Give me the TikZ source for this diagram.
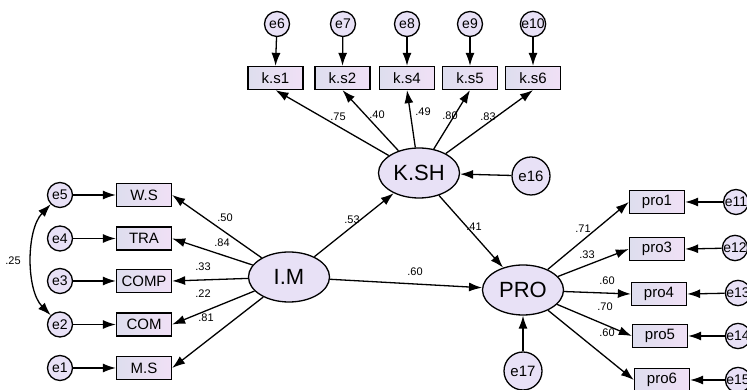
\documentclass[tikz,border=0pt]{standalone}
\usepackage{fontspec}
\setmainfont{Liberation Sans}
\usetikzlibrary{shapes.geometric,arrows.meta}
\definecolor{fillL}{RGB}{222,222,238}
\definecolor{fillR}{RGB}{240,224,246}
\definecolor{ellfill}{RGB}{232,225,246}
\tikzset{
  obs/.style={draw, rectangle, minimum width=55pt, minimum height=23pt, inner sep=1pt,
    left color=fillL, right color=fillR, line width=1.3pt, font=\fontsize{15}{17}\selectfont},
  lat/.style={draw, ellipse, minimum width=81pt, minimum height=50pt, inner sep=0pt,
    fill=ellfill, line width=1.3pt, font=\fontsize{22}{24}\selectfont},
  err/.style={draw, circle, minimum size=25pt, inner sep=0pt, fill=ellfill,
    line width=1.3pt, font=\fontsize{14}{16}\selectfont},
  bigerr/.style={err, minimum size=38pt, font=\fontsize{15}{17}\selectfont},
  arr/.style={-{Latex[length=13pt,width=9pt]}, line width=1.3pt},
  dbl/.style={{Latex[length=13pt,width=9pt]}-{Latex[length=13pt,width=9pt]}, line width=1.3pt},
  coef/.style={font=\fontsize{11}{13}\selectfont, inner sep=0pt}
}
\begin{document}
\begin{tikzpicture}[x=1pt,y=1pt]
\useasboundingbox (0,0) rectangle (747,390);
% latent
\node[lat] (ksh) at (419,217) {K.SH};
\node[lat] (im) at (289,113) {I.M};
\node[lat] (pro) at (523,100) {PRO};
\node[bigerr] (e16) at (531,214) {e16};
\node[bigerr] (e17) at (523,19) {e17};
% top
\node[obs] (ks1) at (275.5,312) {k.s1};
\node[obs] (ks2) at (342.5,312) {k.s2};
\node[obs] (ks4) at (407,312) {k.s4};
\node[obs] (ks5) at (470,312) {k.s5};
\node[obs] (ks6) at (533,312) {k.s6};
\node[err] (e6) at (277,366) {e6};
\node[err] (e7) at (343,366) {e7};
\node[err] (e8) at (407,366) {e8};
\node[err] (e9) at (470,366) {e9};
\node[err] (e10) at (533,366) {e10};
% left
\node[obs] (ws) at (144,195) {W.S};
\node[obs] (tra) at (144,151.5) {TRA};
\node[obs] (comp) at (144,109) {COMP};
\node[obs] (com) at (144,65.5) {COM};
\node[obs] (ms) at (144,22) {M.S};
\node[err] (e5) at (60,195) {e5};
\node[err] (e4) at (60,151.5) {e4};
\node[err] (e3) at (60,109) {e3};
\node[err] (e2) at (60,65.5) {e2};
\node[err] (e1) at (60,22) {e1};
% right
\node[obs] (pro1) at (657,188) {pro1};
\node[obs] (pro3) at (657,141) {pro3};
\node[obs] (pro4) at (659,96) {pro4};
\node[obs] (pro5) at (660,54) {pro5};
\node[obs] (pro6) at (662,10) {pro6};
\node[err] (e11) at (736,188) {e11};
\node[err] (e12) at (735,142) {e12};
\node[err] (e13) at (738,97) {e13};
\node[err] (e14) at (738,54) {e14};
\node[err] (e15) at (738,10) {e15};
% error arrows
\foreach \e/\b in {e6/ks1,e7/ks2,e8/ks4,e9/ks5,e10/ks6}
  \draw[arr] (\e) -- (\b.north);
\foreach \e/\b in {e5/ws,e4/tra,e3/comp,e2/com,e1/ms}
  \draw[arr] (\e) -- (\b.west);
\foreach \e/\b in {e11/pro1,e12/pro3,e13/pro4,e14/pro5,e15/pro6}
  \draw[arr] (\e) -- (\b.east);
\draw[arr] (e16) -- (ksh);
\draw[arr] (e17) -- (pro);
% loadings
\foreach \b in {ks1,ks2,ks4,ks5,ks6}
  \draw[arr] (ksh) -- (\b.south);
\foreach \b in {ws,tra,comp,com,ms}
  \draw[arr] (im) -- (\b.east);
\foreach \b in {pro1,pro3,pro4,pro5,pro6}
  \draw[arr] (pro) -- (\b.west);
% structural
\draw[arr] (im) -- (ksh);
\draw[arr] (im) -- (pro);
\draw[arr] (ksh) -- (pro);
% covariance
\draw[dbl] (e5.south west) .. controls (26,160) and (26,100) .. (e2.north west);
% coefficients
\node[coef] at (338,273) {.75};
\node[coef] at (377,275) {.40};
\node[coef] at (423,278) {.49};
\node[coef] at (450,274) {.80};
\node[coef] at (488,273) {.83};
\node[coef] at (225,172) {.50};
\node[coef] at (222,147) {.84};
\node[coef] at (203,123) {.33};
\node[coef] at (203,96) {.22};
\node[coef] at (206,72) {.81};
\node[coef] at (13,129) {.25};
\node[coef] at (352,170) {.53};
\node[coef] at (415,118) {.60};
\node[coef] at (474,163) {.41};
\node[coef] at (583,161) {.71};
\node[coef] at (587,135) {.33};
\node[coef] at (607,109) {.60};
\node[coef] at (605,83) {.70};
\node[coef] at (607,57) {.60};
\end{tikzpicture}
\end{document}
